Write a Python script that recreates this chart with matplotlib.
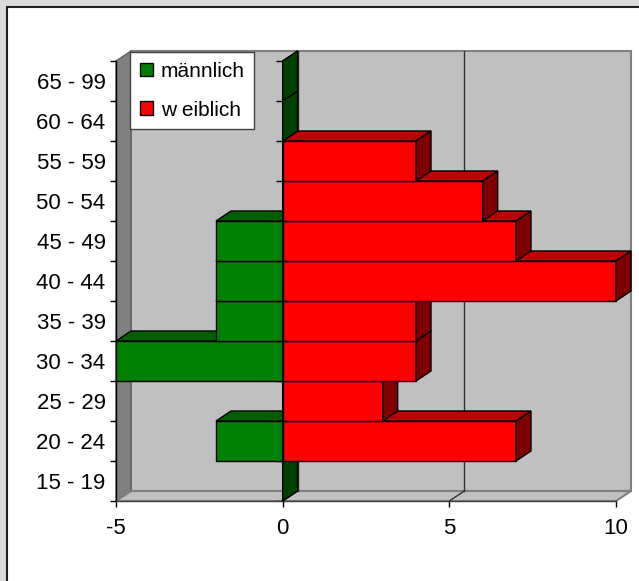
import matplotlib
matplotlib.use('Agg')
import matplotlib.pyplot as plt
from matplotlib.patches import Polygon, Rectangle, Patch
import numpy as np

plt.rcParams['font.family'] = ['Liberation Sans', 'DejaVu Sans']

# Altersverteilung (männlich negativ nach links)
altersgruppen = ['15 - 19', '20 - 24', '25 - 29', '30 - 34', '35 - 39', '40 - 44',
                 '45 - 49', '50 - 54', '55 - 59', '60 - 64', '65 - 99']
maennlich = [0, -2, 0, -5, -2, -2, -2, 0, 0, 0, 0]
weiblich = [0, 7, 3, 4, 4, 10, 7, 6, 4, 0, 0]
x_ticks = [-5, 0, 5, 10]

# Excel-like colours: front, top, side
GREEN = ('#008000', '#006000', '#004000')
RED = ('#ff0000', '#c00000', '#800000')

W, H = 639, 581
fig = plt.figure(figsize=(W / 100, H / 100), dpi=100, facecolor='#dcdcdc')
fig.patches.append(Rectangle((7 / W, -0.1), 1.2, 1.1 - 7 / H, transform=fig.transFigure,
                             facecolor='white', edgecolor='#202020', lw=1.5, zorder=-10))

# plot area (pixels): front plane + depth offset
L, R, T, B = 116, 631, 51, 501
ax = fig.add_axes([L / W, 1 - B / H, (R - L) / W, (B - T) / H])
ax.set_facecolor('none')

DX, DY = 0.45, 0.25          # 3D depth offset in data units
xmin, xmax = x_ticks[0], x_ticks[-1]
ymin, ymax = -0.5, len(altersgruppen) - 0.5
ax.set_xlim(xmin, xmax + DX)
ax.set_ylim(ymin, ymax + DY)

# walls and floor
ax.add_patch(Rectangle((xmin + DX, ymin + DY), xmax - xmin, ymax - ymin,
                       fc='#c0c0c0', ec='#808080', lw=1.5, zorder=1, clip_on=False))
ax.add_patch(Polygon([(xmin, ymin), (xmin, ymax), (xmin + DX, ymax + DY), (xmin + DX, ymin + DY)],
                     fc='#808080', ec='#606060', lw=1, zorder=1.1, clip_on=False))
ax.add_patch(Polygon([(xmin, ymin), (xmax, ymin), (xmax + DX, ymin + DY), (xmin + DX, ymin + DY)],
                     fc='#c0c0c0', ec='#808080', lw=1.5, zorder=1.1, clip_on=False))
for xv in x_ticks[1:-1]:
    ax.plot([xv + DX, xv + DX], [ymin + DY, ymax + DY], color='#303030', lw=1, zorder=1.2)
    ax.plot([xv, xv + DX], [ymin, ymin + DY], color='#303030', lw=1, zorder=1.2)

# axis lines
ax.plot([xmin, xmin], [ymin, ymax], color='black', lw=1, zorder=2, clip_on=False)
ax.plot([xmin, xmax], [ymin, ymin], color='#404040', lw=1, zorder=2, clip_on=False)
ax.plot([0, 0], [ymin, ymax], color='black', lw=1, zorder=1.3)
bounds = np.arange(ymin, ymax + 0.01, 1.0)
ax.hlines(bounds, -0.21, 0, color='black', lw=1, zorder=1.3)


def bar3d(y, value, colors, z):
    front = ax.barh(y, value, height=1.0, color=colors[0], edgecolor='black',
                    lw=1, zorder=z, clip_on=False)[0]
    x0, x1 = front.get_x(), front.get_x() + front.get_width()
    x0, x1 = min(x0, x1), max(x0, x1)
    y0, y1 = front.get_y(), front.get_y() + front.get_height()
    top = Polygon([(x0, y1), (x0 + DX, y1 + DY), (x1 + DX, y1 + DY), (x1, y1)],
                  fc=colors[1], ec='black', lw=1, zorder=z, clip_on=False)
    side = Polygon([(x1, y0), (x1 + DX, y0 + DY), (x1 + DX, y1 + DY), (x1, y1)],
                   fc=colors[2], ec='black', lw=1, zorder=z, clip_on=False)
    ax.add_patch(top)
    ax.add_patch(side)


# draw bottom to top so upper bars hide the tops of lower ones
for i in range(len(altersgruppen)):
    bar3d(i, maennlich[i], GREEN, 10 + 2 * i)
    if weiblich[i] != 0:
        bar3d(i, weiblich[i], RED, 11 + 2 * i)

# ticks and labels
for s in ax.spines.values():
    s.set_visible(False)
ax.set_xticks(x_ticks)
ax.set_xticklabels([str(v) for v in x_ticks])
ax.set_yticks(range(len(altersgruppen)))
ax.set_yticklabels(altersgruppen)
ax.set_yticks(bounds, minor=True)
ax.tick_params(axis='y', which='major', length=0, pad=7.5, labelsize=16)
ax.tick_params(axis='y', which='minor', length=4.3, width=1, direction='out')
ax.tick_params(axis='x', length=4.3, width=1, direction='out', pad=8, labelsize=16)

# legend
handles = [Patch(facecolor=GREEN[0], edgecolor='black', lw=1, label='männlich'),
           Patch(facecolor=RED[0], edgecolor='black', lw=1, label='w eiblich')]
leg = ax.legend(handles=handles, loc='upper left', bbox_to_anchor=(130 / W, 1 - 52 / H),
                bbox_transform=fig.transFigure, borderaxespad=0, frameon=True,
                fancybox=False, edgecolor='#404040', framealpha=1, fontsize=15,
                handlelength=0.65, handleheight=0.65, handletextpad=0.35,
                labelspacing=0.95, borderpad=0.47)
leg.get_frame().set_linewidth(1)
leg.set_zorder(100)

fig.savefig('out.png', dpi=100)
